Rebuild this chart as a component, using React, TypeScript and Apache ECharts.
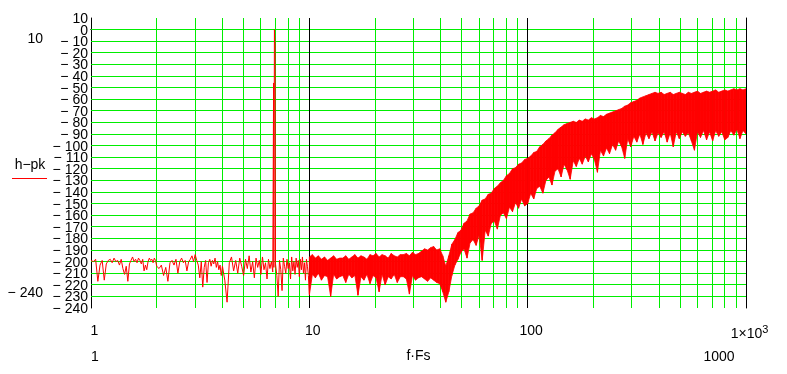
import React, { useEffect, useRef } from 'react';
import * as echarts from 'echarts';

const FONT = '"Liberation Sans", Arial, sans-serif';
const RED = '#ff0000';
const GREEN = '#00ee00';

// Grid positions
const MINOR_X = [2, 3, 4, 5, 6, 7, 8, 9, 20, 30, 40, 50, 60, 70, 80, 90, 200, 300, 400, 500, 600, 700, 800, 900];
const MAJOR_X = [10, 100];
const Y_GRID = [0, -10, -20, -30, -40, -50, -60, -70, -80, -90, -100, -110, -120, -130, -140, -150, -160, -170, -180, -190, -200, -210, -220, -230];
const Y_END_LABELS = [-240, 10];

// Low-frequency part (1 .. 10): individual noise samples, incl. the carrier peak near 6.9
const LOW_F = [
  1, 1.025, 1.05, 1.075, 1.1, 1.125, 1.15, 1.175, 1.2, 1.225, 1.25, 1.275, 1.3, 1.325, 1.35, 1.375, 1.4, 1.425, 1.45, 1.475,
  1.5, 1.525, 1.55, 1.575, 1.6, 1.625, 1.65, 1.675, 1.7, 1.725, 1.75, 1.775, 1.8, 1.825, 1.85, 1.875, 1.9, 1.925, 1.95, 1.975,
  2, 2.05, 2.1, 2.15, 2.2, 2.25, 2.3, 2.35, 2.4, 2.45, 2.5, 2.55, 2.6, 2.65, 2.7, 2.75, 2.8, 2.85, 2.9, 2.95,
  3, 3.05, 3.1, 3.15, 3.2, 3.25, 3.3, 3.35, 3.4, 3.45, 3.5, 3.55, 3.6, 3.65, 3.7, 3.75, 3.8, 3.85, 3.9, 3.95,
  4, 4.1, 4.2, 4.3, 4.4, 4.5, 4.6, 4.7, 4.8, 4.9, 5, 5.1, 5.2, 5.3, 5.4, 5.5, 5.6, 5.7, 5.8, 5.9,
  6, 6.1, 6.2, 6.3, 6.4, 6.5, 6.6, 6.7, 6.8, 6.86, 6.88, 6.92, 6.96,
  7, 7.1, 7.2, 7.3, 7.4, 7.5, 7.6, 7.7, 7.8, 7.9, 8, 8.1, 8.2, 8.3, 8.4, 8.5, 8.6, 8.7, 8.8, 8.9,
  9, 9.1, 9.2, 9.3, 9.4, 9.5, 9.6, 9.7, 9.8, 9.9, 10,
];
const LOW_V = [
  -199, -200, -198, -217, -203, -199, -216, -202, -199, -198, -201, -197, -200, -199, -203, -198, -206, -211, -204, -217,
  -202, -199, -196, -200, -198, -201, -197, -199, -202, -198, -208, -203, -207, -200, -197, -199, -198, -201, -197, -199,
  -204, -206, -203, -212, -205, -217, -201, -199, -203, -198, -210, -200, -197, -201, -199, -208, -200, -198, -195, -200,
  -194, -199, -203, -214, -200, -222, -205, -199, -218, -201, -198, -204, -199, -202, -197, -205, -200, -207, -203, -212,
  -204, -216, -235, -201, -196, -208, -199, -210, -197, -204, -212, -198, -206, -195, -209, -200, -214, -197, -205, -199,
  -211, -196, -207, -201, -215, -198, -206, -200, -209, -46, -205, 0, -14,
  -202, -212, -230, -199, -207, -225, -197, -204, -210, -198, -206, -201, -215, -196, -208, -200, -211, -197, -205, -199,
  -213, -198, -207, -196, -210, -201, -216, -198, -204, -212, -228,
];

// High-frequency part (10 .. 1000): dense noise shown as its upper / lower envelope
const BAND_F = [
  10, 10.33, 10.66, 11, 11.36, 11.74, 12.12, 12.52, 12.92, 13.34, 13.78, 14.23, 14.68, 15.16, 15.66, 16.17, 16.7, 17.24,
  17.78, 18.36, 18.96, 19.58, 20.21, 20.87, 21.54, 22.25, 22.97, 23.71, 24.48, 25.28, 26.1, 26.95, 27.83, 28.73, 29.66,
  30.63, 31.62, 32.65, 33.71, 34.81, 35.94, 37.11, 38.31, 39.56, 40.84, 42.17, 43.54, 44.96, 46.42, 47.93, 49.48, 51.09,
  52.75, 54.46, 56.23, 58.06, 59.95, 61.89, 63.9, 65.98, 68.13, 70.34, 72.62, 74.99, 77.43, 79.94, 82.54, 85.22, 87.99,
  90.85, 93.8, 96.85,
  100, 103.3, 106.6, 110, 113.6, 117.4, 121.2, 125.2, 129.2, 133.4, 137.8, 142.3, 146.8, 151.6, 156.6, 161.7, 167, 172.4,
  177.8, 183.6, 189.6, 195.8, 202.1, 208.7, 215.4, 222.5, 229.7, 237.1, 244.8, 252.8, 261, 269.5, 278.3, 287.3, 296.6,
  306.3, 316.2, 326.5, 337.1, 348.1, 359.4, 371.1, 383.1, 395.6, 408.4, 421.7, 435.4, 449.6, 464.2, 479.3, 494.8, 510.9,
  527.5, 544.6, 562.3, 580.6, 599.5, 618.9, 639, 659.8, 681.3, 703.4, 726.2, 749.9, 774.3, 799.4, 825.4, 852.2, 879.9,
  908.5, 938, 968.5, 1000,
];
const BAND_HI = [
  -196, -194, -197, -195, -198, -196, -199, -197, -195, -198, -197,
  -197, -195, -198, -196, -194, -197, -195, -196, -198, -194,
  -195, -193, -196, -194, -195, -197, -193, -195, -196, -194,
  -194, -193, -195, -192, -194, -193, -191, -189, -190, -188,
  -187, -190, -189, -195, -204, -195,
  -185, -181, -175, -173, -167, -165, -159, -158, -154, -152, -147, -146, -142, -141, -137, -135, -132, -130, -126, -124,
  -120, -119, -116, -115, -112,
  -111, -109, -106, -105, -101, -99, -96, -94, -91, -89, -86, -84, -82, -81, -80, -79, -80, -78, -79, -77,
  -78, -76, -77, -76, -74, -75, -73, -72, -71, -70, -69, -68, -66, -65, -63, -62, -61, -59, -58, -57,
  -56, -55, -54, -55, -54, -56, -55, -54, -56, -55, -54, -55, -56, -54, -55, -54, -53, -55, -54, -53,
  -54, -53, -52, -54, -53, -52, -53, -52, -51, -52, -51, -52, -51,
];
const BAND_LO = [
  -229, -211, -214, -210, -216, -212, -213, -230, -211, -215, -213,
  -212, -218, -211, -214, -212, -229, -213, -216, -211, -219,
  -212, -214, -226, -211, -220, -213, -215, -211, -218, -213,
  -213, -215, -228, -212, -216, -214, -213, -215, -217, -214,
  -216, -218, -219, -226, -235, -226,
  -212, -203, -198, -192, -189, -197, -184, -181, -186, -177, -199, -173, -178, -167, -165, -172, -160, -158, -163, -153,
  -157, -149, -154, -146, -152,
  -150, -141, -146, -137, -135, -141, -130, -127, -134, -122, -120, -127, -116, -121, -129, -113, -118, -111, -116, -109,
  -114, -107, -112, -123, -104, -109, -102, -107, -99, -104, -96, -101, -111, -94, -101, -92, -97, -90, -99, -89,
  -94, -88, -96, -89, -93, -88, -97, -89, -101, -88, -94, -88, -92, -89, -96, -104, -88, -93, -87, -95,
  -88, -96, -87, -92, -88, -95, -93, -87, -91, -86, -94, -87, -90,
];

const crisp = (v: number) => Math.floor(v) + 0.5;
const fmtY = (v: number) => (v < 0 ? '\u2212 ' + Math.abs(v) : String(v));

export default function App() {
  const ref = useRef<HTMLDivElement>(null);
  useEffect(() => {
    const chart = echarts.init(ref.current as HTMLDivElement, null, { renderer: 'svg' });
    const txt = { color: '#000', fontFamily: FONT, fontSize: 14 };
    // one custom item that draws a whole family of vertical grid lines through the x scale
    const vLines = (values: number[], color: string, z: number) => ({
      type: 'custom',
      silent: true,
      z,
      data: [[1, -240]],
      renderItem: (params: any, api: any) => ({
        type: 'group',
        children: values.map((f) => {
          const top = api.coord([f, 10]);
          const bot = api.coord([f, -240]);
          const x = crisp(top[0]);
          return { type: 'line', shape: { x1: x, y1: top[1], x2: x, y2: bot[1] }, style: { stroke: color, lineWidth: 1, fill: null } };
        }),
      }),
    });
    chart.setOption({
      animation: false,
      grid: { left: 91, right: 41, top: 18, bottom: 66, containLabel: false },
      xAxis: [
        {
          type: 'log',
          logBase: 10,
          min: 1,
          max: 1000,
          axisLine: { show: true, lineStyle: { color: '#000', width: 1 } },
          axisTick: { show: false },
          splitLine: { show: false },
          minorSplitLine: { show: false },
          axisLabel: {
            ...txt,
            margin: 15,
            padding: [0, 0, 0, 7],
            formatter: (v: number) => (v >= 1000 ? '{m|1×10}{s|3}' : String(v)),
            rich: {
              m: { ...txt },
              s: { ...txt, fontSize: 11, verticalAlign: 'top', padding: [0, 0, 8, 0] },
            },
          },
          name: 'f·Fs',
          nameLocation: 'middle',
          nameGap: 40,
          nameTextStyle: { ...txt },
        },
        {
          type: 'log',
          logBase: 10,
          min: 1,
          max: 1000,
          position: 'top',
          axisLine: { show: true, lineStyle: { color: '#000', width: 1 } },
          axisTick: { show: false },
          axisLabel: { show: false },
          splitLine: { show: false },
          minorSplitLine: { show: false },
        },
      ],
      yAxis: [
        {
          // inner labels 0 .. −230
          type: 'value',
          min: -240,
          max: 10,
          interval: 10,
          axisLine: { show: true, lineStyle: { color: '#000', width: 1 } },
          axisTick: { show: false },
          splitLine: { show: false },
          axisLabel: { ...txt, margin: 3, showMinLabel: false, showMaxLabel: false, formatter: fmtY },
        },
        {
          // end labels 10 and −240
          type: 'value',
          min: -240,
          max: 10,
          interval: 10,
          position: 'left',
          offset: 0,
          axisLine: { show: false },
          axisTick: { show: false },
          splitLine: { show: false },
          axisLabel: {
            ...txt,
            margin: 3,
            customValues: Y_END_LABELS,
            showMinLabel: true,
            showMaxLabel: true,
            formatter: fmtY,
          },
        },
        {
          type: 'value',
          min: -240,
          max: 10,
          interval: 10,
          position: 'right',
          axisLine: { show: true, lineStyle: { color: '#000', width: 1 } },
          axisTick: { show: false },
          axisLabel: { show: false },
          splitLine: { show: false },
        },
      ],
      series: [
        {
          type: 'custom',
          silent: true,
          z: 1,
          data: [[1, -240]],
          renderItem: (params: any, api: any) => ({
            type: 'group',
            children: Y_GRID.map((v) => {
              const a = api.coord([1, v]);
              const b = api.coord([1000, v]);
              const y = crisp(a[1]);
              return { type: 'line', shape: { x1: a[0], y1: y, x2: b[0], y2: y }, style: { stroke: GREEN, lineWidth: 1, fill: null } };
            }),
          }),
        },
        vLines(MINOR_X, GREEN, 1),
        vLines(MAJOR_X, '#000', 2),
        {
          type: 'line',
          name: 'h-pk',
          z: 3,
          symbol: 'none',
          data: LOW_F.map((f, i) => [f, LOW_V[i]]),
          lineStyle: { color: RED, width: 1 },
        },
        {
          type: 'custom',
          z: 3,
          clip: true,
          silent: true,
          encode: { x: [0, 3], y: [1, 2, 4, 5] },
          data: BAND_F.slice(0, -1).map((f, i) => [f, BAND_HI[i], BAND_LO[i], BAND_F[i + 1], BAND_HI[i + 1], BAND_LO[i + 1]]),
          renderItem: (params: any, api: any) => {
            const a = api.coord([api.value(0), api.value(1)]);
            const b = api.coord([api.value(3), api.value(4)]);
            const c = api.coord([api.value(3), api.value(5)]);
            const d = api.coord([api.value(0), api.value(2)]);
            return {
              type: 'polygon',
              shape: { points: [a, b, c, d] },
              style: { fill: RED, stroke: RED, lineWidth: 0.8 },
            };
          },
        },
      ],
      graphic: [
        { type: 'text', x: 43, y: 38, style: { text: '10', fill: '#000', font: `14px ${FONT}`, align: 'right', verticalAlign: 'middle' } },
        { type: 'text', x: 30, y: 164, style: { text: 'h\u2212pk', fill: '#000', font: `14px ${FONT}`, align: 'center', verticalAlign: 'middle' } },
        { type: 'line', shape: { x1: 12, y1: 178.5, x2: 47, y2: 178.5 }, style: { stroke: RED, lineWidth: 1 } },
        { type: 'text', x: 43, y: 292, style: { text: '\u2212 240', fill: '#000', font: `14px ${FONT}`, align: 'right', verticalAlign: 'middle' } },
        { type: 'text', x: 95, y: 356, style: { text: '1', fill: '#000', font: `14px ${FONT}`, align: 'center', verticalAlign: 'middle' } },
        { type: 'text', x: 719, y: 356, style: { text: '1000', fill: '#000', font: `14px ${FONT}`, align: 'center', verticalAlign: 'middle' } },
      ],
    });
    return () => chart.dispose();
  }, []);
  return <div ref={ref} style={{ position: 'fixed', left: 0, top: 0, width: 787, height: 374 }} />;
}
